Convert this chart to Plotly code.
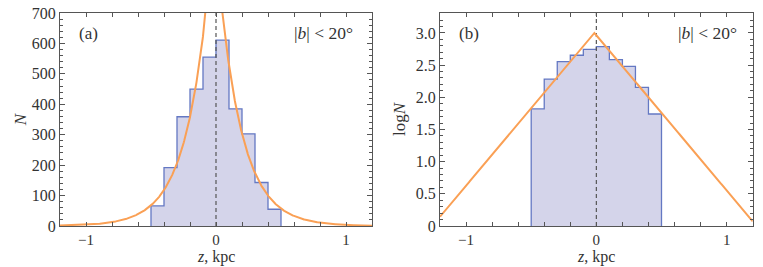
import numpy as np
import plotly.graph_objects as go

# ---- data ----
bin_edges = [-0.5, -0.4, -0.3, -0.2, -0.1, 0.0, 0.1, 0.2, 0.3, 0.4, 0.5]
counts = [66, 192, 359, 450, 555, 611, 385, 303, 143, 55]

# exponential fit: log N = peak - slope*|z - z0|
fit_peak_logN = 3.0
fit_slope = 2.41       # dex per kpc
fit_center = -0.015    # kpc

x_ticks = [-1.2, -1.0, -0.8, -0.6, -0.4, -0.2, 0.0, 0.2, 0.4, 0.6, 0.8, 1.0, 1.2]
x_ticklabels = ["", "−1", "", "", "", "", "0", "", "", "", "", "1", ""]
ya_ticks = [0, 100, 200, 300, 400, 500, 600, 700]
yb_ticks = [0, 0.5, 1.0, 1.5, 2.0, 2.5, 3.0]
yb_ticklabels = ["0", "0.5", "1.0", "1.5", "2.0", "2.5", "3.0"]

# ---- derived ----
counts = np.array(counts, dtype=float)
logcounts = np.log10(counts)
e = list(bin_edges)
step_x = [e[0]] + e[:-1] + [e[-1], e[-1]]
step_ya = [0] + list(counts) + [counts[-1], 0]
step_yb = [0] + list(logcounts) + [logcounts[-1], 0]

zf = np.linspace(-1.2, 1.2, 961)
zf = np.sort(np.append(zf, fit_center))
fit_logN = fit_peak_logN - fit_slope * np.abs(zf - fit_center)
fit_N = 10 ** fit_logN

FONT = "Liberation Serif, Times New Roman, serif"
FILL = "rgb(212,212,234)"
EDGE = "rgb(100,120,195)"
ORANGE = "rgb(250,160,85)"
AXC = "#555555"
TXT = "#333333"

fig = go.Figure()

for xa, ya, sy, fy in [("x", "y", step_ya, fit_N), ("x2", "y2", step_yb, fit_logN)]:
    fig.add_trace(go.Scatter(x=step_x, y=sy, mode="lines", line_shape="hv",
                             fill="tozeroy", fillcolor=FILL,
                             line=dict(color=EDGE, width=1.3),
                             xaxis=xa, yaxis=ya, showlegend=False, hoverinfo="skip"))
    fig.add_trace(go.Scatter(x=[0, 0], y=[0, 1e4], mode="lines",
                             line=dict(color="#555555", width=1.2, dash="4px,3px"),
                             xaxis=xa, yaxis=ya, showlegend=False, hoverinfo="skip"))
    fig.add_trace(go.Scatter(x=zf, y=fy, mode="lines",
                             line=dict(color=ORANGE, width=2),
                             xaxis=xa, yaxis=ya, showlegend=False, hoverinfo="skip"))

W, H = 763, 267
top, bottom = 13, 226
xa_dom = [60 / W, 372 / W]
xb_dom = [440 / W, 752.7 / W]
y_dom = [1 - bottom / H, 1 - top / H]

common_x = dict(range=[-1.2, 1.2], tickvals=x_ticks, ticktext=x_ticklabels,
                ticks="inside", ticklen=4, tickwidth=1, tickcolor=AXC,
                showline=True, linecolor=AXC, linewidth=1, mirror="ticks",
                showgrid=False, zeroline=False, ticklabelstandoff=0, automargin=False,
                tickfont=dict(family=FONT, size=15, color=TXT))
common_y = dict(ticks="inside", ticklen=5, tickwidth=1, tickcolor=AXC,
                showline=True, linecolor=AXC, linewidth=1, mirror="ticks",
                showgrid=False, zeroline=False, automargin=False,
                tickfont=dict(family=FONT, size=16, color=TXT))

xtitle_y = 1 - 257 / H
title_font = dict(family=FONT, size=16, color=TXT)

fig.update_layout(
    width=W, height=H, margin=dict(l=0, r=0, t=0, b=0, autoexpand=False),
    paper_bgcolor="white", plot_bgcolor="white",
    xaxis=dict(domain=xa_dom, anchor="y", **common_x),
    xaxis2=dict(domain=xb_dom, anchor="y2", **common_x),
    yaxis=dict(domain=y_dom, anchor="x", range=[0, 700], tickvals=ya_ticks,
               minor=dict(dtick=20, ticks="inside", ticklen=3, tickcolor=AXC, showgrid=False),
               title=dict(text="<i>N</i>", font=dict(family=FONT, size=17, color=TXT), standoff=0),
               **common_y),
    yaxis2=dict(domain=y_dom, anchor="x2", range=[0, 3.31], tickvals=yb_ticks, ticktext=yb_ticklabels,
                minor=dict(dtick=0.1, ticks="inside", ticklen=3, tickcolor=AXC, showgrid=False),
                title=dict(text="log<i>N</i>", font=dict(family=FONT, size=17, color=TXT), standoff=5),
                **common_y),
    annotations=[
        dict(text="<i>z</i>, kpc", x=0.5, y=xtitle_y, xref="x domain", yref="paper", xanchor="center",
             yanchor="middle", showarrow=False, font=title_font),
        dict(text="<i>z</i>, kpc", x=0.5, y=xtitle_y, xref="x2 domain", yref="paper", xanchor="center",
             yanchor="middle", showarrow=False, font=title_font),
        dict(text="(a)", x=0.054, y=0.906, xref="x domain", yref="y domain", xanchor="left", yanchor="middle",
             showarrow=False, font=dict(family=FONT, size=17, color=TXT)),
        dict(text="|<i>b</i>| < 20°", x=0.945, y=0.906, xref="x domain", yref="y domain", xanchor="right", yanchor="middle",
             showarrow=False, font=dict(family=FONT, size=17.5, color=TXT)),
        dict(text="(b)", x=0.054, y=0.906, xref="x2 domain", yref="y2 domain", xanchor="left", yanchor="middle",
             showarrow=False, font=dict(family=FONT, size=17, color=TXT)),
        dict(text="|<i>b</i>| < 20°", x=0.955, y=0.906, xref="x2 domain", yref="y2 domain", xanchor="right", yanchor="middle",
             showarrow=False, font=dict(family=FONT, size=17.5, color=TXT)),
    ],
)

fig.write_html("out.html", config={"displayModeBar": False},
               post_script="document.body.style.margin='0px';")
